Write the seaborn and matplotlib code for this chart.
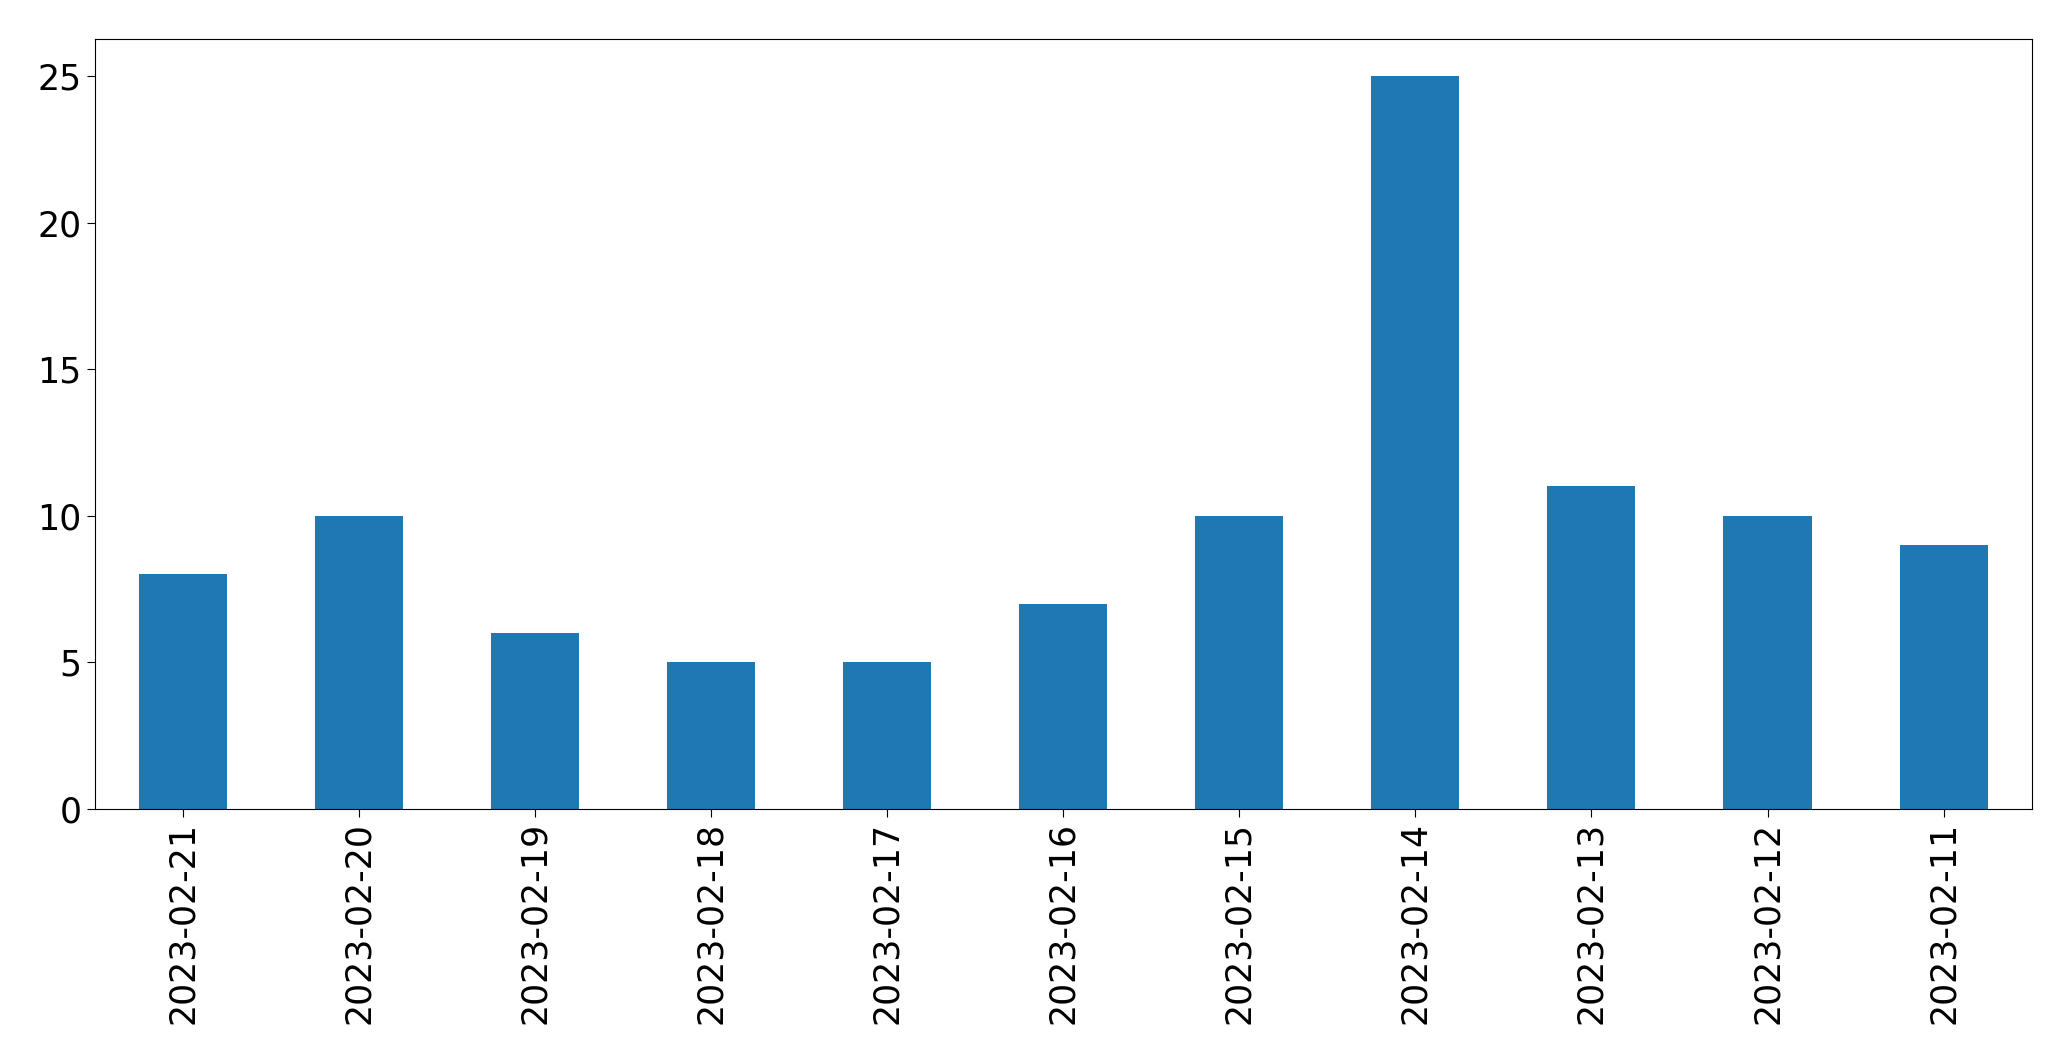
import numpy as np
import seaborn as sns
import pandas as pd
from matplotlib import pyplot as plt

dates = ["2023-02-21", "2023-02-20", "2023-02-19", "2023-02-18", "2023-02-17",
         "2023-02-16", "2023-02-15", "2023-02-14", "2023-02-13", "2023-02-12",
         "2023-02-11"]
counts = [8, 10, 6, 5, 5, 7, 10, 25, 11, 10, 9]

df = pd.DataFrame({"date": dates, "count": counts})

fig, ax = plt.subplots(figsize=(20.71, 10.61), dpi=100)
sns.barplot(data=df, x="date", y="count", order=dates, color="#1f77b4",
            saturation=1, width=0.5, ax=ax)
ax.set_xlim(-0.5, len(dates) - 0.5)
ax.set_xlabel("")
ax.set_ylabel("")
ax.tick_params(axis="both", labelsize=25, length=6)
plt.setp(ax.get_xticklabels(), rotation=90)
fig.subplots_adjust(left=0.0457, right=0.981, top=0.963, bottom=0.2375)
fig.savefig("out.png")
